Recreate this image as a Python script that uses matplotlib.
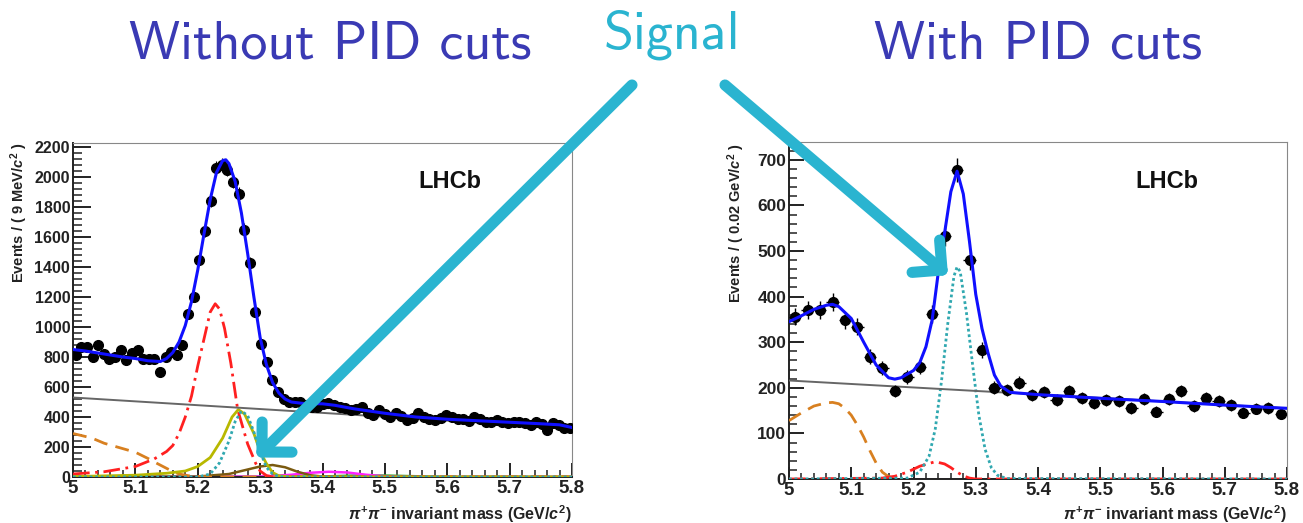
import numpy as np
import matplotlib
matplotlib.use("Agg")
import matplotlib.pyplot as plt
from matplotlib.lines import Line2D
from matplotlib.ticker import MultipleLocator

plt.rcParams['font.family'] = ['Liberation Sans', 'DejaVu Sans']
plt.rcParams['mathtext.fontset'] = 'custom'
plt.rcParams['mathtext.rm'] = 'Liberation Sans:bold'
plt.rcParams['mathtext.it'] = 'Liberation Sans:bold:italic'
plt.rcParams['mathtext.bf'] = 'Liberation Sans:bold'

# ---------------- Left panel: without PID cuts (9 MeV bins) ----------------
left_bin_lo = 5.0
left_bin_w = 0.009
left_counts = [813, 870, 865, 800, 880, 820, 790, 800, 850, 780,
               830, 850, 790, 790, 790, 700, 800, 833, 813, 880,
               1090, 1200, 1450, 1640, 1840, 2060, 2080, 2050, 1970, 1890,
               1650, 1430, 1100, 890, 770, 650, 570, 520, 500, 500,
               500, 480, 470, 467, 490, 493, 480, 470, 460, 447,
               455, 467, 430, 413, 447, 420, 400, 430, 410, 380,
               395, 427, 400, 390, 380, 395, 413, 400, 385, 390,
               375, 400, 385, 370, 365, 380, 370, 360, 370, 365,
               360, 350, 365, 355, 313, 360, 345, 327, 330]

left_total_x = [5.00, 5.02, 5.05, 5.08, 5.10, 5.12, 5.14, 5.15, 5.16, 5.17,
                5.18, 5.19, 5.20, 5.21, 5.22, 5.23, 5.24, 5.245, 5.25, 5.26,
                5.27, 5.28, 5.29, 5.30, 5.31, 5.32, 5.33, 5.34, 5.35, 5.37,
                5.40, 5.42, 5.45, 5.50, 5.55, 5.60, 5.65, 5.70, 5.75, 5.78, 5.80]
left_total_y = [850, 840, 820, 800, 790, 775, 770, 790, 830, 900,
                1010, 1170, 1380, 1620, 1850, 2030, 2110, 2115, 2090, 1970,
                1760, 1490, 1200, 930, 750, 630, 560, 520, 500, 490,
                488, 478, 455, 425, 400, 385, 375, 365, 355, 348, 330]

left_comb_x = [5.0, 5.8]
left_comb_y = [530, 325]

left_red_x = [5.00, 5.05, 5.10, 5.13, 5.15, 5.16, 5.17, 5.18, 5.19, 5.20, 5.21,
              5.22, 5.228, 5.235, 5.243, 5.253, 5.264, 5.28, 5.293, 5.30, 5.31, 5.32, 5.8]
left_red_y = [20, 35, 70, 120, 170, 210, 290, 400, 540, 740, 920,
              1100, 1155, 1120, 990, 760, 450, 220, 90, 40, 10, 0, 0]

left_orange_x = [5.00, 5.03, 5.05, 5.10, 5.12, 5.135, 5.155, 5.17, 5.19, 5.22, 5.8]
left_orange_y = [290, 260, 225, 165, 124, 90, 47, 20, 5, 0, 0]

left_olive_x = [5.00, 5.10, 5.15, 5.18, 5.20, 5.22, 5.24, 5.255, 5.265, 5.275,
                5.29, 5.30, 5.31, 5.32, 5.33, 5.35, 5.8]
left_olive_y = [3, 12, 25, 40, 70, 130, 260, 400, 450, 420,
                290, 170, 90, 30, 8, 0, 0]

left_cyan_x = [5.00, 5.20, 5.22, 5.235, 5.25, 5.26, 5.27, 5.28, 5.29, 5.30,
               5.31, 5.32, 5.33, 5.34, 5.8]
left_cyan_y = [0, 0, 20, 95, 240, 370, 440, 410, 300, 170,
               65, 20, 3, 0, 0]

left_brown_x = [5.00, 5.20, 5.25, 5.28, 5.30, 5.32, 5.34, 5.36, 5.38, 5.40, 5.42, 5.8]
left_brown_y = [0, 3, 20, 50, 70, 80, 65, 35, 12, 3, 0, 0]

left_magenta_x = [5.00, 5.30, 5.35, 5.38, 5.41, 5.44, 5.47, 5.50, 5.53, 5.8]
left_magenta_y = [0, 3, 15, 28, 35, 30, 15, 5, 0, 0]

left_green_x = [5.00, 5.40, 5.45, 5.50, 5.55, 5.60, 5.8]
left_green_y = [0, 3, 10, 10, 5, 0, 0]

# ---------------- Right panel: with PID cuts (20 MeV bins) ----------------
right_bin_lo = 5.0
right_bin_w = 0.02
right_counts = [356, 371, 371, 388, 348, 334, 268, 243, 193, 224,
                246, 362, 533, 678, 481, 283, 200, 195, 211, 184,
                191, 173, 193, 178, 167, 173, 171, 156, 175, 147,
                176, 193, 160, 178, 171, 162, 145, 154, 156, 143]

right_total_x = [5.00, 5.02, 5.04, 5.06, 5.07, 5.08, 5.10, 5.12, 5.14, 5.16,
                 5.17, 5.18, 5.20, 5.21, 5.22, 5.23, 5.24, 5.25, 5.26, 5.27,
                 5.28, 5.29, 5.30, 5.31, 5.32, 5.33, 5.34, 5.355, 5.40, 5.50,
                 5.60, 5.70, 5.80]
right_total_y = [345, 358, 372, 381, 383, 378, 352, 300, 250, 222,
                 219, 222, 238, 255, 290, 349, 455, 540, 630, 675,
                 625, 520, 405, 330, 275, 228, 204, 190, 185, 177,
                 170, 162, 155]

right_comb_x = [5.0, 5.8]
right_comb_y = [216, 155]

right_orange_x = [5.00, 5.02, 5.04, 5.06, 5.07, 5.08, 5.09, 5.10, 5.11, 5.12,
                  5.13, 5.14, 5.15, 5.16, 5.18]
right_orange_y = [128, 145, 160, 167, 168, 165, 155, 140, 118, 92,
                  62, 35, 15, 5, 0]

right_red_x = [5.00, 5.15, 5.17, 5.19, 5.21, 5.235, 5.25, 5.26, 5.27, 5.28, 5.29, 5.30, 5.8]
right_red_y = [0, 2, 6, 15, 28, 38, 33, 25, 15, 7, 2, 0, 0]

right_cyan_x = [5.00, 5.19, 5.21, 5.225, 5.235, 5.245, 5.255, 5.265, 5.27, 5.275,
                5.285, 5.295, 5.305, 5.315, 5.325, 5.335, 5.35, 5.8]
right_cyan_y = [0, 2, 15, 50, 110, 215, 340, 445, 465, 455,
                365, 250, 140, 65, 25, 8, 1, 0]

# ---------------- figure ----------------
W, H = 1303, 523
fig = plt.figure(figsize=(W / 100, H / 100), dpi=100)


def px(x, y):
    return x / W, 1 - y / H


axL = fig.add_axes([73 / W, 1 - 477 / H, (572 - 73) / W, (477 - 143) / H])
axR = fig.add_axes([789 / W, 1 - 479 / H, (1287 - 789) / W, (479 - 142) / H])


def style_axes(ax, ymax, ymaj, ymin, ylen, xlen, ysize):
    ax.set_xlim(5.0, 5.8)
    ax.set_ylim(0, ymax)
    ax.xaxis.set_major_locator(MultipleLocator(0.1))
    ax.xaxis.set_minor_locator(MultipleLocator(0.02))
    ax.yaxis.set_major_locator(MultipleLocator(ymaj))
    ax.yaxis.set_minor_locator(MultipleLocator(ymin))
    ax.tick_params(axis='y', which='major', direction='in', length=ylen, width=1.4,
                   labelsize=ysize, colors='#222222', pad=2)
    ax.tick_params(axis='y', which='minor', direction='in', length=ylen / 2, width=1.1,
                   colors='#222222')
    ax.tick_params(axis='x', which='major', direction='in', length=xlen, width=1.4,
                   labelsize=13.5, colors='#222222', pad=2)
    ax.tick_params(axis='x', which='minor', direction='in', length=xlen / 2, width=1.1,
                   colors='#222222')
    ax.xaxis.set_major_formatter(matplotlib.ticker.FuncFormatter(lambda v, p: f"{v:g}"))
    ax.spines['left'].set_color('#222222')
    ax.spines['bottom'].set_color('#222222')
    ax.spines['left'].set_linewidth(1.4)
    ax.spines['bottom'].set_linewidth(1.4)
    ax.spines['top'].set_color('#888888')
    ax.spines['right'].set_color('#888888')


style_axes(axL, 2227, 200, 40, 13, 10, 11.5)
style_axes(axR, 739, 100, 20, 11, 9, 12.5)
for ax in (axL, axR):
    for lab in ax.get_xticklabels() + ax.get_yticklabels():
        lab.set_fontweight('bold')

# ----- left drawing -----
lc = np.array(left_counts, dtype=float)
lx = left_bin_lo + left_bin_w * (np.arange(len(lc)) + 0.5)
axL.plot([5.0, 5.8], [0, 0], color='#8040a0', lw=1.8, zorder=2)
axL.plot(left_green_x, left_green_y, color='#40b040', lw=1.8, zorder=2)
axL.plot(left_magenta_x, left_magenta_y, color='#ff20ff', lw=1.8, zorder=2)
axL.plot(left_brown_x, left_brown_y, color='#7a5a10', lw=1.8, zorder=2)
axL.plot(left_orange_x, left_orange_y, color='#d88020', lw=2.0, ls=(0, (5, 3)), zorder=3)
axL.plot(left_red_x, left_red_y, color='#ff2020', lw=2.0, ls=(0, (6, 2, 1, 2)), zorder=3)
axL.plot(left_olive_x, left_olive_y, color='#b8b800', lw=2.0, zorder=3)
axL.plot(left_cyan_x, left_cyan_y, color='#30a8b0', lw=2.0, ls=(0, (1, 1)), zorder=3)
axL.plot(left_comb_x, left_comb_y, color='#666666', lw=1.4, zorder=3)
axL.errorbar(lx, lc, yerr=np.sqrt(lc), xerr=left_bin_w / 2, fmt='o', color='black',
             ms=7, elinewidth=0.8, capsize=0, zorder=4)
axL.plot(left_total_x, left_total_y, color='#1010ff', lw=2.2, zorder=5)

# ----- right drawing -----
rc = np.array(right_counts, dtype=float)
rx = right_bin_lo + right_bin_w * (np.arange(len(rc)) + 0.5)
axR.plot([5.0, 5.8], [0, 0], color='#8040a0', lw=1.8, zorder=2)
axR.plot(right_orange_x, right_orange_y, color='#d88020', lw=2.0, ls=(0, (5, 3)), zorder=3)
axR.plot(right_red_x, right_red_y, color='#ff2020', lw=2.0, ls=(0, (6, 2, 1, 2)), zorder=3)
axR.plot(right_cyan_x, right_cyan_y, color='#30a8b0', lw=2.0, ls=(0, (1, 1)), zorder=3)
axR.plot(right_comb_x, right_comb_y, color='#666666', lw=1.4, zorder=3)
axR.errorbar(rx, rc, yerr=np.sqrt(rc), xerr=right_bin_w / 2, fmt='o', color='black',
             ms=7, elinewidth=1.0, capsize=0, zorder=4)
axR.plot(right_total_x, right_total_y, color='#1010ff', lw=2.2, zorder=5)

# ----- texts -----
fig.text(*px(19, 143), r'Events / ( 9 MeV/$\mathit{c}^{2}$ )', rotation=90, ha='center',
         va='top', fontsize=10.5, fontweight='bold', color='#222222')
fig.text(*px(736, 143), r'Events / ( 0.02 GeV/$\mathit{c}^{2}$ )', rotation=90, ha='center',
         va='top', fontsize=10.5, fontweight='bold', color='#222222')
fig.text(*px(572, 514), r'$\pi^{+}\pi^{-}$ invariant mass (GeV/$\mathit{c}^{2}$)', ha='right',
         va='center', fontsize=11.5, fontweight='bold', color='#222222')
fig.text(*px(1287, 514), r'$\pi^{+}\pi^{-}$ invariant mass (GeV/$\mathit{c}^{2}$)', ha='right',
         va='center', fontsize=11.5, fontweight='bold', color='#222222')
fig.text(*px(450, 182), 'LHCb', ha='center', va='center', fontsize=17, fontweight='bold',
         color='#111111')
fig.text(*px(1167, 182), 'LHCb', ha='center', va='center', fontsize=17, fontweight='bold',
         color='#111111')

fig.text(*px(330, 45), 'Without PID cuts', ha='center', va='center', fontsize=39,
         family='cmss10', color='#3a3ab4')
fig.text(*px(1038, 45), 'With PID cuts', ha='center', va='center', fontsize=39,
         family='cmss10', color='#3a3ab4')
fig.text(*px(672, 35), 'Signal', ha='center', va='center', fontsize=39,
         family='cmss10', color='#2ab4d0')

# ----- arrows (figure pixel coordinates) -----
ARROW_C = '#2ab4d0'


def arrow(x0, y0, x1, y1, arm=30):
    a = px(x0, y0)
    b = px(x1, y1)
    fig.add_artist(Line2D([a[0], b[0]], [a[1], b[1]], transform=fig.transFigure,
                          color=ARROW_C, lw=8, solid_capstyle='round'))
    d = np.array([x0 - x1, y0 - y1], dtype=float)
    d /= np.hypot(*d)
    for ang in (np.pi / 4, -np.pi / 4):
        r = np.array([[np.cos(ang), -np.sin(ang)], [np.sin(ang), np.cos(ang)]])
        e = r @ d * arm
        c = px(x1 + e[0], y1 + e[1])
        fig.add_artist(Line2D([b[0], c[0]], [b[1], c[1]], transform=fig.transFigure,
                              color=ARROW_C, lw=8, solid_capstyle='round'))


arrow(632, 85, 262, 452)
arrow(725, 85, 942, 270)

fig.savefig('out.png', dpi=100)
